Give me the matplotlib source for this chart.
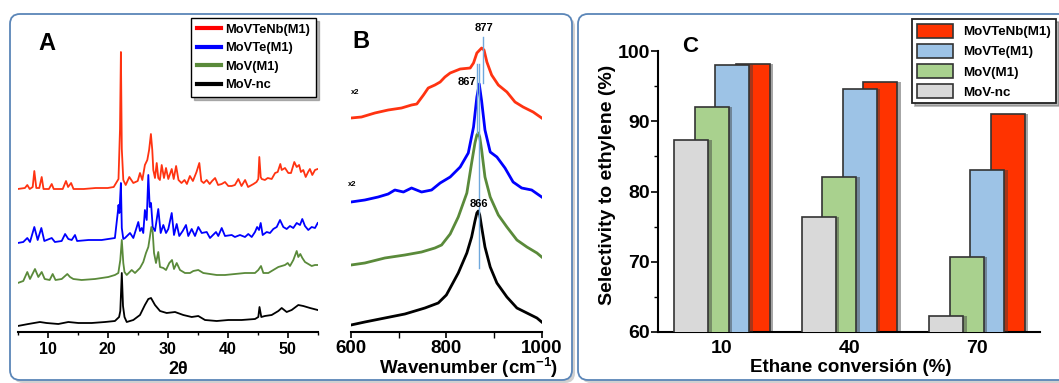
import numpy as np
import matplotlib.pyplot as plt
from matplotlib.patches import FancyBboxPatch, Patch
from matplotlib.lines import Line2D

plt.rcParams['font.family'] = ['Liberation Sans', 'DejaVu Sans']
plt.rcParams['font.weight'] = 'bold'
plt.rcParams['axes.labelweight'] = 'bold'
plt.rcParams['mathtext.fontset'] = 'custom'
plt.rcParams['mathtext.rm'] = 'Liberation Sans:bold'
plt.rcParams['mathtext.it'] = 'Liberation Sans:bold'
plt.rcParams['mathtext.bf'] = 'Liberation Sans:bold'

SAMPLES = ['MoVTeNb(M1)', 'MoVTe(M1)', 'MoV(M1)', 'MoV-nc']

# ---- panel A: XRD patterns (2theta, intensity a.u. above own baseline)
TT_MOVTENB = [5.0, 6.2, 6.6, 7.0, 7.5, 7.77, 8.1, 8.6, 9.0, 9.3, 10.2, 10.67, 11.0, 12.5,
              13.05, 13.4, 13.9, 14.3, 16.0, 18.0, 20.0, 21.0, 21.8, 22.05, 22.2, 22.35,
              22.6, 23.0, 23.6, 24.27, 25.0, 25.38, 25.77, 26.2, 26.6, 26.9, 27.2, 27.43,
              27.6, 27.88, 28.17, 28.43, 28.7, 29.0, 29.38, 29.72, 30.1, 30.67, 31.0, 31.4,
              31.8, 32.3, 32.8, 33.2, 33.7, 34.2, 34.8, 35.27, 35.6, 36.0, 36.5, 37.0, 37.4,
              37.9, 38.4, 39.0, 39.55, 40.1, 40.67, 41.2, 41.77, 42.3, 42.9, 43.4, 44.3,
              44.8, 45.1, 45.27, 45.5, 45.67, 46.2, 46.67, 47.33, 47.9, 48.33, 48.77, 49.0,
              49.55, 50.1, 50.55, 51.1, 51.5, 51.9, 52.2, 52.6, 53.0, 53.4, 53.7, 54.1,
              54.55, 55.0]
I_MOVTENB = [0, 1, 4, 0, 2, 18, 1, 1, 12, 0, 0, 5, 0, 0,
             8, 2, 6, 0, 0, 1, 1, 2, 10, 60, 137, 40,
             9, 4, 12, 6, 8, 16, 9, 24, 29, 39, 55, 39,
             19, 11, 26, 11, 9, 24, 11, 21, 10, 20, 10, 23,
             9, 6, 9, 5, 13, 8, 17, 26, 8, 6, 9, 5, 8,
             11, 4, 5, 7, 3, 3, 4, 10, 3, 9, 2, 5,
             7, 10, 32, 12, 10, 9, 11, 10, 16, 17, 25, 19,
             21, 16, 16, 27, 22, 24, 17, 19, 12, 17, 20, 14,
             19, 20]

TT_MOVTE = [5.0, 5.93, 6.6, 7.05, 7.77, 8.33, 8.94, 9.44, 10.67, 11.2, 12.33, 12.9, 13.44,
            14.0, 14.55, 14.9, 16.8, 19.0, 21.2, 21.67, 21.8, 21.95, 22.05, 22.2, 22.35,
            22.6, 22.88, 23.72, 24.27, 25.1, 25.38, 25.67, 25.93, 26.2, 26.5, 26.77, 27.0,
            27.22, 27.5, 27.88, 28.43, 28.83, 29.27, 29.72, 30.1, 30.67, 31.05, 31.5, 31.93,
            32.5, 33.05, 33.43, 34.0, 34.55, 35.1, 35.67, 36.5, 37.05, 38.05, 38.43, 39.0,
            39.55, 40.67, 41.2, 42.05, 42.88, 43.43, 44.0, 44.55, 44.9, 45.22, 45.5, 45.83,
            46.5, 47.05, 47.6, 48.17, 48.72, 49.27, 49.83, 50.38, 50.93, 51.5, 52.05, 52.43,
            52.88, 53.43, 54.0, 54.55, 55.0]
I_MOVTE = [0, 1, 5, 1, 16, 3, 15, 2, 5, 1, 2, 9, 4,
           3, 8, 2, 3, 3, 5, 30, 38, 30, 42, 60, 15,
           4, 5, 10, 5, 21, 12, 15, 10, 33, 23, 68, 36,
           40, 16, 12, 34, 10, 18, 10, 14, 30, 8, 19, 7,
           12, 18, 7, 14, 7, 16, 10, 11, 5, 11, 7, 15,
           7, 8, 6, 8, 6, 9, 6, 11, 16, 13, 20, 8,
           11, 10, 14, 16, 23, 16, 14, 17, 15, 20, 18, 24,
           17, 13, 16, 15, 20]

TT_MOV = [5.0, 5.93, 6.6, 7.05, 7.88, 8.44, 9.0, 9.5, 10.33, 10.83, 11.3, 12.33, 13.27,
          13.72, 14.27, 15.66, 17.88, 20.1, 21.2, 21.77, 22.1, 22.35, 22.6, 22.8, 23.17,
          24.0, 24.55, 25.38, 25.93, 26.38, 26.77, 27.0, 27.27, 27.5, 27.72, 28.05, 28.43,
          28.72, 29.27, 29.72, 30.27, 30.72, 31.05, 31.5, 32.05, 32.88, 33.72, 34.27, 35.1,
          35.93, 37.05, 38.17, 39.55, 41.2, 42.88, 44.55, 45.1, 45.55, 45.94, 46.77, 47.6,
          48.44, 49.0, 49.55, 50.0, 50.38, 50.94, 51.5, 51.77, 52.1, 52.44, 52.88, 53.44,
          54.0, 54.55, 55.0]
I_MOV = [0, 2, 11, 4, 14, 6, 11, 4, 3, 9, 3, 4, 9,
         6, 4, 3, 4, 6, 8, 10, 23, 43, 20, 11, 8,
         13, 10, 15, 21, 30, 36, 45, 56, 51, 30, 20, 31,
         16, 15, 13, 20, 23, 14, 20, 13, 10, 10, 12, 13,
         10, 9, 8, 8, 9, 10, 10, 13, 17, 10, 10, 13,
         16, 17, 18, 20, 17, 23, 32, 26, 29, 25, 21, 19,
         17, 18, 18]

TT_MOVNC = [5.0, 6.77, 8.7, 9.8, 11.77, 13.44, 15.1, 17.33, 19.55, 21.2, 21.9, 22.1, 22.35,
            22.55, 22.8, 23.17, 24.27, 25.38, 26.2, 26.77, 27.22, 27.88, 28.72, 29.83, 31.22,
            32.6, 34.0, 35.1, 36.22, 38.17, 40.1, 42.33, 44.55, 45.1, 45.3, 45.6, 46.2,
            47.33, 48.44, 49.0, 49.83, 50.66, 51.77, 52.6, 53.72, 55.0]
I_MOVNC = [0, 2, 4, 3, 2, 4, 3, 3, 4, 5, 9, 15, 53,
           20, 9, 4, 6, 11, 21, 27, 28, 21, 15, 13, 14,
           11, 9, 10, 6, 5, 6, 6, 7, 9, 19, 9, 10,
           11, 15, 18, 14, 16, 21, 20, 18, 16]

XRD_OFFSETS = [143, 89, 49, 6]

# ---- panel B: Raman spectra (wavenumber, intensity a.u. above own baseline)
WN_MOVTENB = [600, 622, 650, 678, 706, 727, 738, 752, 762, 776, 787, 797, 808, 829, 850,
              857, 864, 874, 879, 885, 895, 909, 927, 944, 961, 982, 1000]
R_MOVTENB = [0, 1, 5, 8, 10, 13, 14, 23, 30, 33, 36, 41, 45, 49, 50,
             55, 65, 70, 68, 56, 43, 33, 26, 16, 11, 6, 0]

WN_MOVTE = [600, 629, 657, 678, 692, 710, 727, 748, 769, 787, 808, 829, 846, 857, 864,
            869, 874, 881, 892, 906, 923, 940, 958, 979, 1000]
R_MOVTE = [0, 2, 5, 8, 12, 10, 14, 10, 12, 19, 25, 35, 49, 75, 105,
           118, 101, 72, 50, 45, 34, 20, 14, 12, 5]

WN_MOV = [600, 629, 671, 713, 748, 776, 790, 808, 825, 843, 853, 860, 864, 867, 870, 874,
          881, 892, 909, 927, 948, 969, 990, 1000]
R_MOV = [0, 2, 7, 10, 13, 17, 20, 31, 48, 72, 102, 122, 130, 132, 128, 115,
         88, 68, 50, 38, 25, 18, 12, 8]

WN_MOVNC = [600, 629, 671, 713, 755, 783, 800, 808, 825, 843, 853, 860, 864, 867, 870, 874,
            881, 892, 906, 927, 948, 969, 990, 1000]
R_MOVNC = [0, 3, 7, 11, 17, 22, 30, 37, 52, 72, 88, 104, 112, 114, 110, 98,
           78, 58, 42, 28, 17, 12, 7, 3]

RAMAN_OFFSETS = [214, 130, 67, 7]

# ---- panel C: selectivity to ethylene (%) at given ethane conversion
CONVERSION = ['10', '40', '70']
SEL_MOVTENB = [98.2, 95.6, 91.0]
SEL_MOVTE = [98.0, 94.6, 83.0]
SEL_MOV = [92.0, 82.0, 70.7]
SEL_MOVNC = [87.4, 76.3, 62.3]

LINE_COLORS = ['#FF3311', '#0000FF', '#5A8A3A', '#000000']
LEGEND_LINE_COLORS = ['#FF0000', '#0000FF', '#5A8A3A', '#000000']
BAR_COLORS = ['#FF3300', '#9DC3E6', '#A9D18E', '#D9D9D9']

W, H = 1059, 383
fig = plt.figure(figsize=(W / 100, H / 100), dpi=100)


def frac(px, py, w, h):
    # pixel box (left, bottom edge from top) -> figure fraction
    return [px / W, 1 - py / H, w / W, h / H]


# background frames (pixel coordinates)
bg = fig.add_axes([0, 0, 1, 1])
bg.set_xlim(0, W)
bg.set_ylim(H, 0)
bg.axis('off')
bg.set_zorder(-1)
for x0, wd in [(10, 562), (578, 500)]:
    bg.add_patch(FancyBboxPatch((x0 + 3, 17), wd, 366, boxstyle='round,pad=0,rounding_size=10',
                                fc='#bdbdbd', ec='none', alpha=0.7))
    bg.add_patch(FancyBboxPatch((x0, 14), wd, 366, boxstyle='round,pad=0,rounding_size=10',
                                fc='white', ec='#5B86B8', lw=1.3))
bg.text(47, 43, 'A', fontsize=17, fontweight='bold', ha='center', va='center')
bg.text(361, 42, 'B', fontsize=17, fontweight='bold', ha='center', va='center')
bg.text(690, 47, 'C', fontsize=16, fontweight='bold', ha='center', va='center')

# ---------------- A
axA = fig.add_axes(frac(17.7, 332, 300, 292))
axA.set_facecolor('none')
xrd = [(TT_MOVTENB, I_MOVTENB), (TT_MOVTE, I_MOVTE), (TT_MOV, I_MOV), (TT_MOVNC, I_MOVNC)]
for (tt, inten), off, c in zip(xrd, XRD_OFFSETS, LINE_COLORS):
    axA.plot(tt, np.array(inten) + off, color=c, lw=1.3)
axA.set_xlim(5, 55)
axA.set_ylim(0, 292)
for s in ['top', 'left', 'right']:
    axA.spines[s].set_visible(False)
axA.spines['bottom'].set_linewidth(1.5)
axA.set_yticks([])
axA.set_xticks([10, 20, 30, 40, 50])
axA.set_xticks([5, 15, 25, 35, 45, 55], minor=True)
axA.tick_params(axis='x', which='major', length=4, width=1.2, labelsize=11.5, pad=3)
axA.tick_params(axis='x', which='minor', length=2.5, width=1.0)
for lb in axA.get_xticklabels():
    lb.set_fontweight('bold')
axA.set_xlabel('2θ', fontsize=13, fontweight='bold')
axA.xaxis.set_label_coords(0.534, -0.10)
handlesA = [Line2D([], [], color=c, lw=3) for c in LEGEND_LINE_COLORS]
legA = axA.legend(handlesA, SAMPLES, loc='upper right', bbox_to_anchor=(316 / W, 1 - 18 / H),
                  bbox_transform=fig.transFigure, prop={'size': 9.3, 'weight': 'bold'},
                  handlelength=1.9, handletextpad=0.3, labelspacing=0.5, borderpad=0.45,
                  borderaxespad=0, fancybox=False, edgecolor='black', framealpha=1,
                  shadow={'color': '0.45', 'alpha': 0.5})
legA.get_frame().set_linewidth(1.0)

# ---------------- B
axB = fig.add_axes(frac(351, 332, 190.7, 312))
axB.set_facecolor('none')
raman = [(WN_MOVTENB, R_MOVTENB), (WN_MOVTE, R_MOVTE), (WN_MOV, R_MOV), (WN_MOVNC, R_MOVNC)]
for (wn, inten), off, c in zip(raman, RAMAN_OFFSETS, LINE_COLORS):
    axB.plot(wn, np.array(inten) + off, color=c, lw=2.0)
axB.plot([876, 876], [249, 295], color='#6FA8DC', lw=1.0)
axB.plot([864, 864], [199, 268], color='#6FA8DC', lw=1.0)
axB.plot([868, 868], [64, 268], color='#6FA8DC', lw=1.0)
axB.text(880, 304, '877', fontsize=8, ha='center', va='center')
axB.text(843, 250, '867', fontsize=8, ha='center', va='center')
axB.text(868, 128, '866', fontsize=8, ha='center', va='center')
axB.text(600, 240, 'x2', fontsize=5.5, ha='left', va='center')
axB.text(594, 147, 'x2', fontsize=5.5, ha='left', va='center')
axB.set_xlim(600, 1000)
axB.set_ylim(0, 312)
for s in ['top', 'left', 'right']:
    axB.spines[s].set_visible(False)
axB.spines['bottom'].set_linewidth(1.5)
axB.set_yticks([])
axB.set_xticks([600, 800, 1000])
axB.set_xticks([700, 900], minor=True)
axB.tick_params(axis='x', which='major', length=4, width=1.2, labelsize=13.5, pad=2)
axB.tick_params(axis='x', which='minor', length=4, width=1.0)
for lb in axB.get_xticklabels():
    lb.set_fontweight('bold')
axB.set_xlabel('Wavenumber (cm$^{-1}$)', fontsize=13.5, fontweight='bold')
axB.xaxis.set_label_coords(0.614, -0.075)

# ---------------- C
axC = fig.add_axes(frac(658, 332, 382, 281))
axC.set_facecolor('none')
xg = np.arange(len(CONVERSION))
step = 0.161
width = 0.267
bars = [(SEL_MOVTENB, 1.5), (SEL_MOVTE, 0.5), (SEL_MOV, -0.5), (SEL_MOVNC, -1.5)]
for i, ((vals, k), col) in enumerate(zip(bars, BAR_COLORS)):
    pos = xg + k * step
    axC.bar(pos + 0.028, vals, width=width, color='#3a3a3a', alpha=0.45, lw=0, zorder=2 * i + 1)
    axC.bar(pos, vals, width=width, color=col, edgecolor='#333333', lw=1.2, zorder=2 * i + 2)
axC.set_xlim(-0.502, 2.494)
axC.set_ylim(60, 100)
for s in ['top', 'right']:
    axC.spines[s].set_visible(False)
axC.spines['left'].set_bounds(60, 100)
axC.spines['left'].set_linewidth(1.5)
axC.spines['bottom'].set_linewidth(1.5)
axC.set_xticks(xg)
axC.set_xticklabels(CONVERSION, fontsize=14, fontweight='bold')
axC.tick_params(axis='x', length=0, pad=6)
axC.set_yticks([60, 70, 80, 90, 100])
axC.set_yticks([65, 75, 85, 95], minor=True)
axC.tick_params(axis='y', which='major', length=5, width=1.2, labelsize=14, pad=1)
axC.tick_params(axis='y', which='minor', length=3, width=1.0)
for lb in axC.get_yticklabels():
    lb.set_fontweight('bold')
axC.set_xlabel('Ethane conversión (%)', fontsize=13.5, fontweight='bold')
axC.xaxis.set_label_coords(0.505, -0.095)
axC.set_ylabel('Selectivity to ethylene (%)', fontsize=14, fontweight='bold')
axC.yaxis.set_label_coords(-0.11, 0.523)
handlesC = [Patch(facecolor=c, edgecolor='#333333', lw=1.2) for c in BAR_COLORS]
legC = axC.legend(handlesC, SAMPLES, loc='upper right', bbox_to_anchor=(1056 / W, 1 - 19 / H),
                  bbox_transform=fig.transFigure, prop={'size': 9.6, 'weight': 'bold'},
                  handlelength=2.7, handleheight=1.3, handletextpad=0.8, labelspacing=0.4,
                  borderpad=0.35, borderaxespad=0, fancybox=False, edgecolor='#222222',
                  framealpha=1, shadow={'color': '0.45', 'alpha': 0.5})
legC.get_frame().set_linewidth(1.3)
legC.set_zorder(20)

fig.savefig('out.png', dpi=100)
